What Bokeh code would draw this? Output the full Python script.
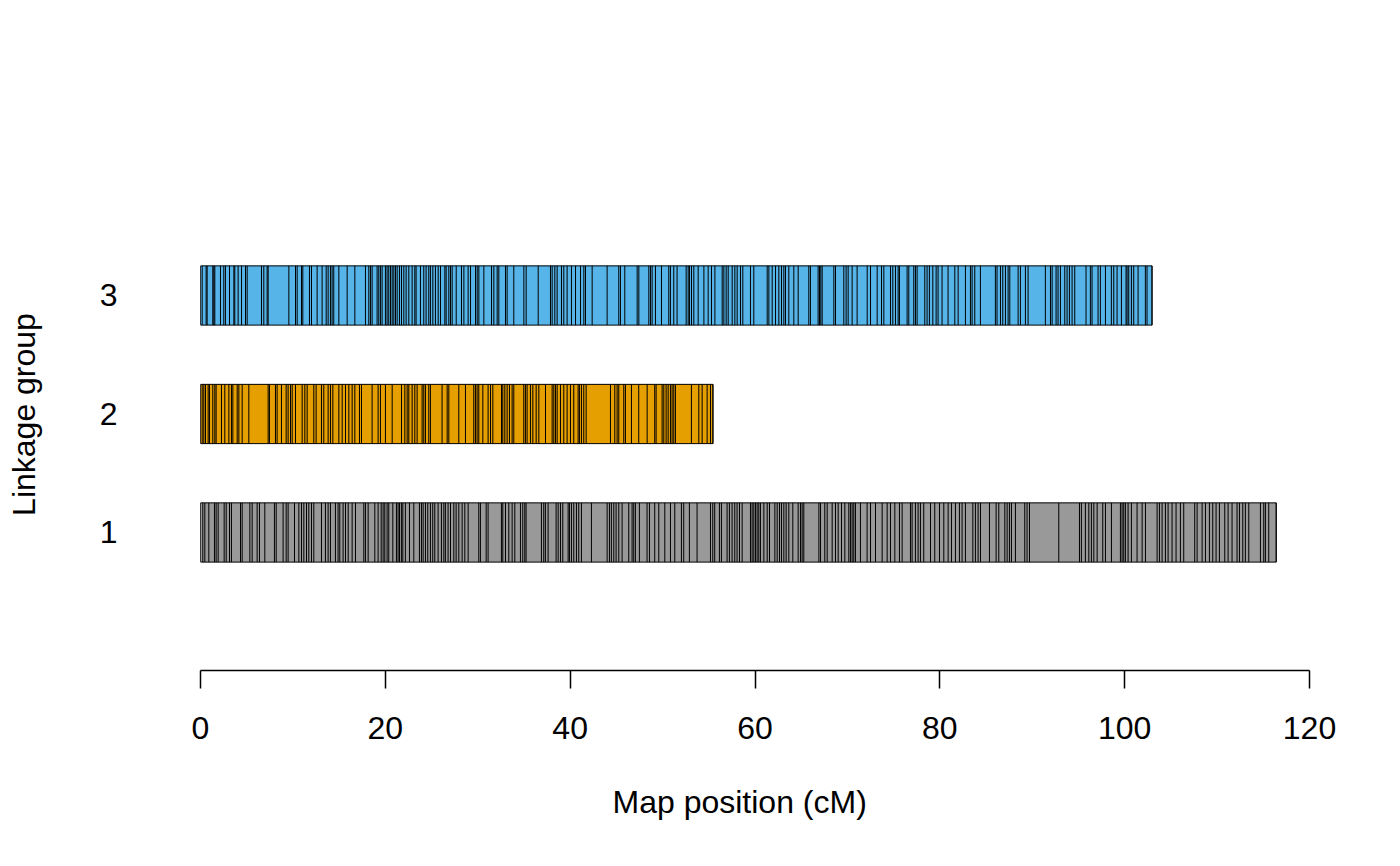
from bokeh.plotting import figure
from bokeh.models import Range1d, FixedTicker, Title
from bokeh.embed import file_html
from bokeh.resources import INLINE

groups = [1, 2, 3]
group_labels = ["1", "2", "3"]
colors = ["#999999", "#E69F00", "#56B4E9"]

lg1 = [0.0, 0.25, 0.47, 0.9, 1.51, 1.69, 1.91, 2.56, 2.78, 3.14, 3.35, 4.33, 4.51, 5.34, 5.59, 6.13, 6.38, 6.96,
       8.0, 8.19, 8.94, 9.27, 9.48, 10.17, 10.64, 10.93, 11.18, 11.47, 11.72, 12.01, 12.26, 13.09, 13.52, 13.81,
       14.06, 14.6, 14.89, 15.07, 15.43, 15.69, 15.98, 16.41, 16.77, 17.67, 17.85, 18.14, 18.86, 19.22, 19.55,
       19.76, 19.94, 20.19, 20.37, 20.81, 21.2, 21.38, 21.53, 21.74, 21.89, 22.17, 22.61, 23.08, 23.69, 23.91,
       24.09, 24.34, 24.59, 24.88, 25.13, 25.35, 25.71, 26.07, 26.33, 26.5, 26.79, 27.05, 27.41, 27.66, 27.95,
       28.31, 28.6, 28.96, 30.11, 30.29, 30.91, 31.12, 32.56, 32.71, 33.0, 33.36, 33.72, 34.01, 34.62, 34.87,
       35.09, 35.23, 36.89, 37.14, 37.32, 37.61, 38.48, 38.7, 38.95, 39.2, 39.78, 39.92, 40.14, 40.39, 40.68,
       40.93, 41.22, 42.3, 44.0, 44.25, 44.46, 44.72, 44.97, 45.26, 45.62, 46.34, 46.7, 46.88, 47.06, 47.49,
       48.32, 48.58, 49.15, 49.59, 50.24, 50.85, 51.32, 52.04, 52.29, 52.9, 53.73, 55.18, 55.43, 55.64, 56.15,
       56.37, 56.98, 57.23, 57.52, 57.81, 58.06, 58.32, 58.61, 59.51, 59.69, 59.87, 60.05, 60.23, 60.41, 60.59,
       60.96, 61.32, 61.57, 62.15, 62.4, 62.65, 62.87, 63.12, 63.37, 63.66, 64.09, 64.67, 64.92, 65.1, 65.28,
       66.91, 67.09, 67.55, 67.81, 68.35, 68.71, 69.0, 69.36, 69.72, 70.15, 70.33, 70.51, 70.69, 70.87, 71.41,
       72.13, 72.5, 73.04, 73.76, 74.3, 74.66, 75.13, 75.63, 75.92, 76.82, 77.0, 77.36, 77.65, 77.9, 78.26,
       78.99, 79.45, 79.96, 80.43, 80.9, 81.26, 81.69, 82.12, 82.41, 82.77, 83.57, 83.85, 84.14, 84.4, 85.37,
       86.09, 86.38, 87.03, 87.28, 87.53, 87.75, 88.18, 89.19, 89.44, 89.7, 92.87, 95.11, 95.32, 95.75, 96.12,
       96.4, 96.66, 97.02, 97.63, 97.92, 98.57, 99.54, 99.72, 99.9, 100.08, 100.37, 100.73, 101.34, 101.89,
       102.25, 103.51, 103.76, 104.05, 104.41, 104.7, 105.13, 105.56, 106.03, 106.39, 107.58, 107.84, 108.38,
       108.74, 109.17, 109.53, 109.89, 110.25, 110.83, 111.19, 111.62, 112.16, 112.42, 112.78, 113.06, 113.43,
       114.69, 115.05, 115.23, 115.59, 116.4]

lg2 = [0.0, 0.18, 0.36, 0.54, 0.83, 0.97, 1.33, 1.55, 1.69, 2.27, 2.63, 3.07, 3.35, 3.5, 3.97, 4.15, 4.51, 5.23,
       7.32, 7.46, 8.11, 8.29, 8.76, 9.27, 9.48, 9.74, 9.92, 10.28, 11.0, 11.29, 11.54, 12.26, 12.51, 13.09,
       13.34, 13.81, 14.06, 14.32, 14.97, 15.33, 15.69, 16.05, 16.41, 16.7, 17.2, 17.42, 18.57, 19.22, 19.47,
       20.01, 20.74, 21.75, 22.11, 22.36, 22.54, 22.9, 23.19, 23.44, 23.98, 24.16, 24.34, 24.7, 24.88, 26.14,
       26.69, 26.87, 27.95, 28.67, 29.57, 29.75, 29.93, 30.11, 30.55, 31.12, 31.38, 31.63, 32.57, 32.71, 32.93,
       33.18, 33.43, 33.72, 33.9, 34.98, 35.16, 35.34, 35.7, 35.96, 36.32, 36.61, 37.33, 38.05, 38.23, 38.41,
       38.59, 38.95, 39.31, 39.67, 40.03, 40.39, 40.86, 41.0, 41.22, 41.47, 41.73, 44.36, 44.83, 45.08, 45.26,
       45.8, 45.98, 46.63, 47.42, 48.33, 49.15, 49.3, 49.95, 50.13, 50.38, 50.6, 50.85, 51.03, 51.21, 51.39,
       53.12, 53.92, 54.28, 54.82, 55.18, 55.45]

lg3 = [0.0, 0.18, 0.61, 0.72, 1.33, 1.44, 1.55, 2.16, 2.52, 2.7, 3.14, 3.61, 3.71, 4.07, 4.44, 4.87, 5.05, 6.6,
       6.85, 7.21, 7.32, 9.56, 10.28, 10.46, 10.93, 11.07, 11.79, 12.01, 12.62, 13.16, 13.6, 13.81, 14.06, 14.24,
       14.42, 14.97, 15.87, 16.7, 17.85, 18.21, 18.39, 18.57, 19.11, 19.29, 19.47, 19.65, 20.01, 20.19, 20.37,
       20.56, 20.74, 20.92, 21.1, 21.28, 21.53, 21.75, 22.0, 22.25, 22.54, 22.9, 23.19, 23.33, 23.8, 24.16,
       24.41, 24.7, 24.88, 25.14, 25.42, 25.72, 25.97, 26.44, 26.58, 26.87, 27.05, 27.23, 27.67, 28.24, 28.5,
       28.96, 29.22, 29.76, 29.94, 30.12, 30.66, 31.49, 31.74, 32.1, 32.28, 33.0, 33.18, 33.9, 34.99, 35.24,
       36.54, 37.87, 38.05, 38.34, 38.59, 39.06, 39.31, 39.67, 40.14, 40.58, 41.12, 41.48, 41.66, 42.38, 44.0,
       45.26, 45.44, 45.91, 47.25, 47.43, 48.51, 48.69, 48.87, 49.23, 49.88, 50.67, 50.85, 51.21, 51.57, 52.55,
       52.77, 52.91, 53.13, 53.38, 53.85, 54.47, 54.93, 55.29, 55.66, 56.45, 56.63, 56.88, 57.1, 57.53, 57.82,
       58.07, 58.43, 58.68, 59.51, 59.87, 61.32, 61.5, 61.86, 62.22, 62.58, 62.87, 63.12, 63.3, 63.66, 64.2,
       64.67, 65.82, 66.0, 66.83, 66.98, 67.12, 67.27, 68.53, 68.71, 69.61, 69.86, 70.08, 70.51, 71.05, 72.14,
       72.5, 73.22, 73.69, 73.94, 74.66, 74.91, 75.2, 75.49, 75.63, 76.46, 76.64, 77.18, 77.36, 77.54, 78.37,
       78.62, 78.87, 79.24, 79.6, 79.81, 80.24, 80.89, 81.62, 81.98, 82.77, 83.31, 83.49, 83.78, 84.39, 86.01,
       86.19, 86.56, 86.81, 87.1, 87.39, 87.57, 88.47, 88.72, 89.26, 89.55, 91.42, 91.97, 92.15, 92.58, 92.79,
       93.05, 93.52, 93.77, 94.02, 94.31, 94.6, 95.82, 96.29, 96.47, 97.12, 97.37, 97.92, 98.56, 98.82, 99.18,
       99.65, 100.15, 100.26, 100.44, 100.73, 100.98, 101.45, 102.24, 102.42, 102.96]

x_ticks = [0, 20, 40, 60, 80, 100, 120]
x_title = "Map position (cM)"
y_title = "Linkage group"

markers = [lg1, lg2, lg3]
half_h = 0.25
FONT = "Liberation Sans"

p = figure(width=1400, height=866, output_backend="svg", toolbar_location=None,
           x_range=Range1d(0, 120), y_range=Range1d(-0.1646, 4.156),
           min_border_left=200, min_border_right=91, min_border_top=158, min_border_bottom=196)
p.outline_line_color = None
p.grid.visible = False
p.background_fill_color = "white"

for g, col, pos in zip(groups, colors, markers):
    p.quad(left=[0], right=[max(pos)], bottom=[g - half_h], top=[g + half_h],
           fill_color=col, line_color="black", line_width=1)
    p.segment(x0=pos, x1=pos, y0=[g - half_h] * len(pos), y1=[g + half_h] * len(pos),
              line_color="black", line_width=1)

xa = p.xaxis[0]
xa.ticker = FixedTicker(ticks=x_ticks)
xa.minor_tick_line_color = None
xa.major_tick_in = 0
xa.major_tick_out = 18
xa.axis_line_width = 1.5
xa.axis_line_color = "black"
xa.major_tick_line_color = "black"
xa.major_tick_line_width = 1.5
xa.major_label_text_font = FONT
xa.major_label_text_font_size = "32px"
xa.major_label_text_color = "black"
xa.major_label_standoff = 28

# x-axis title: centred on R's plot region (slightly left of the axis centre)
p.add_layout(Title(text=x_title, align="left", offset=412, vertical_align="top", standoff=85,
                   text_font=FONT, text_font_size="32px", text_font_style="normal",
                   text_color="black"), "below")

ya = p.yaxis[0]
ya.ticker = FixedTicker(ticks=groups)
ya.major_label_overrides = {g: l for g, l in zip(groups, group_labels)}
ya.axis_line_color = None
ya.major_tick_line_color = None
ya.minor_tick_line_color = None
ya.major_tick_in = 0
ya.major_tick_out = 0
ya.major_label_standoff = 83
ya.major_label_text_font = FONT
ya.major_label_text_font_size = "32px"
ya.major_label_text_color = "black"
ya.axis_label = y_title
ya.axis_label_text_font = FONT
ya.axis_label_text_font_size = "32px"
ya.axis_label_text_font_style = "normal"
ya.axis_label_text_color = "black"
ya.axis_label_standoff = 55

open("out.html", "w").write(file_html(p, INLINE))
